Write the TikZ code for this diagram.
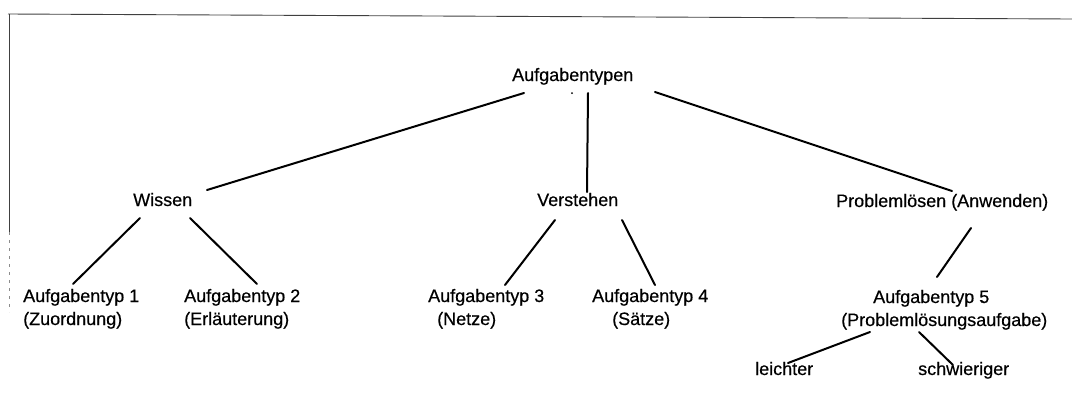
\documentclass[tikz,border=0pt]{standalone}
\usepackage{fontspec}
\setmainfont{Liberation Sans}[FakeBold=0.45]
\usetikzlibrary{calc}
\begin{document}
\begin{tikzpicture}[x=1pt,y=-1pt,
  lbl/.style={anchor=base west, inner sep=0pt, align=left,
              font={\fontsize{18}{23}\selectfont}},
  link/.style={line width=2pt, line cap=round},
  frameline/.style={line width=0.9pt, draw=black!75}]
\useasboundingbox (0,0) rectangle (1072,416);

% frame remnants
\draw[frameline] (8,14) -- (1072,19);
\draw[frameline] (9,14) -- (9,232);
\draw[line width=0.6pt, draw=black!45, dash pattern=on 3pt off 5pt] (9,232) -- (9,312);

% tree nodes (two-line labels are anchored at the baseline of their last line)
\node[lbl] (root) at (512,81) {Aufgabentypen};
\node[lbl] (wis)  at (133,206) {Wissen};
\node[lbl] (ver)  at (537,206) {Verstehen};
\node[lbl] (prob) at (836,207) {Problemlösen (Anwenden)};
\node[lbl] (at1)  at (23,325)  {Aufgabentyp 1\\(Zuordnung)};
\node[lbl] (at2)  at (184,325) {Aufgabentyp 2\\(Erläuterung)};
\node[lbl] (at3)  at (428,325) {Aufgabentyp 3\\\hspace*{9pt}(Netze)};
\node[lbl] (at4)  at (592,325) {Aufgabentyp 4\\\hspace*{20pt}(Sätze)};
\node[lbl] (at5)  at (841,326) {\hspace*{32pt}Aufgabentyp 5\\(Problemlösungsaufgabe)};
\node[lbl] (lei)  at (755,375) {leichter};
\node[lbl] (sch)  at (918,375) {schwieriger};

% small speck under the root label
\fill ($(root.base west)+(60,12)$) circle (1);

% connectors
\draw[link] ($(root.base west)+(12,12)$)  -- ($(wis.base west)+(74,-16)$);
\draw[link] ($(root.base west)+(76,12)$)  -- ($(ver.base west)+(50,-14)$);
\draw[link] ($(root.base west)+(143,11)$) -- ($(prob.base west)+(116,-16)$);
\draw[link] ($(wis.base west)+(7,12)$)    -- ($(at1.base west)+(50,-41)$);
\draw[link] ($(wis.base west)+(57,12)$)   -- ($(at2.base west)+(73,-41)$);
\draw[link] ($(ver.base west)+(18,14)$)   -- ($(at3.base west)+(77,-40)$);
\draw[link] ($(ver.base west)+(85,14)$)   -- ($(at4.base west)+(63,-40)$);
\draw[link] ($(prob.base west)+(135,21)$) -- ($(at5.base west)+(96,-49)$);
\draw[link] ($(at5.base west)+(29,6)$)    -- ($(lei.base west)+(33,-12)$);
\draw[link] ($(at5.base west)+(78,6)$)    -- ($(sch.base west)+(35,-10)$);
\end{tikzpicture}
\end{document}
